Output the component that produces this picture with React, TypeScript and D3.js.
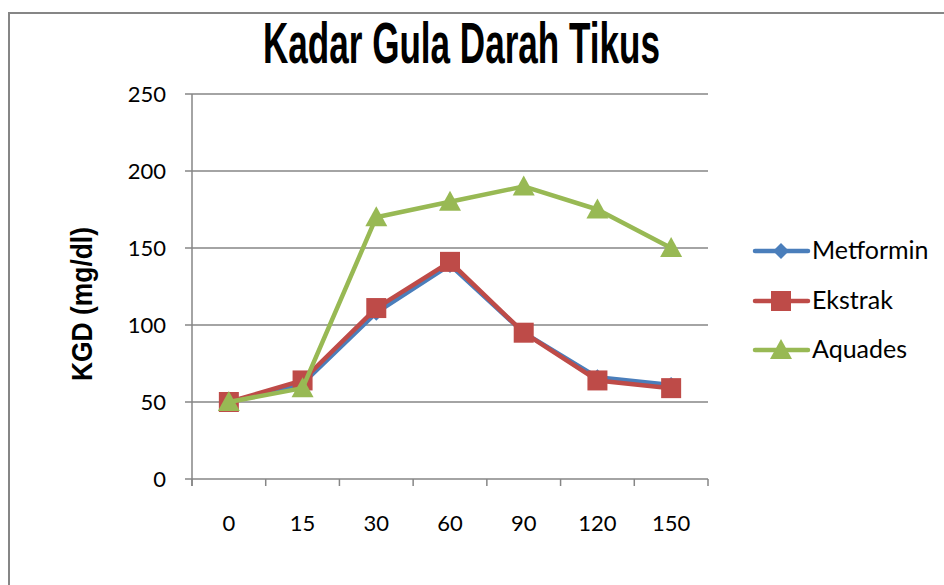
import React, { useEffect, useRef } from 'react';
import * as d3 from 'd3';

// data
const categories = ['0', '15', '30', '60', '90', '120', '150'];
const metformin = [50, 62, 108, 139, 95, 66, 61];
const ekstrak = [50, 64, 111, 141, 95, 64, 59];
const aquades = [50, 59, 170, 180, 190, 175, 150];
const yTicks = [0, 50, 100, 150, 200, 250];

const seriesNames = ['Metformin', 'Ekstrak', 'Aquades'];
const seriesColors = ['#4A7EBB', '#BE4B48', '#98B954'];

const App: React.FC = () => {
    const svgRef = useRef<SVGSVGElement | null>(null);

    useEffect(() => {
        if (!svgRef.current) return;
        const svg = d3.select(svgRef.current);
        svg.selectAll('*').remove();

        const width = 944;
        const height = 585;
        const plot = { left: 192, right: 708, top: 94, bottom: 479 };
        const font = "Lato, 'Open Sans', sans-serif";
        const narrow = "'Liberation Sans Narrow', 'Liberation Sans', Arial, sans-serif";
        const gray = '#868686';

        // khung ngoài
        svg.append('rect')
            .attr('x', 9).attr('y', 13)
            .attr('width', width + 20).attr('height', height + 20)
            .attr('fill', 'white')
            .attr('stroke', gray).attr('stroke-width', 2);

        const x = d3.scaleBand().domain(categories).range([plot.left, plot.right]);
        const y = d3.scaleLinear().domain([0, 250]).range([plot.bottom, plot.top]);

        // gridlines + y ticks
        svg.append('g').selectAll('line').data(yTicks).enter().append('line')
            .attr('x1', plot.left - 7).attr('x2', plot.right)
            .attr('y1', d => y(d)).attr('y2', d => y(d))
            .attr('stroke', gray).attr('stroke-width', 1.5);

        svg.append('g').selectAll('text').data(yTicks).enter().append('text')
            .attr('x', 166).attr('y', d => y(d) + 8)
            .attr('text-anchor', 'end')
            .attr('font-family', font).attr('font-size', 22)
            .attr('fill', '#000')
            .text(d => d);

        // y axis line
        svg.append('line')
            .attr('x1', plot.left).attr('x2', plot.left)
            .attr('y1', plot.top).attr('y2', plot.bottom + 7)
            .attr('stroke', gray).attr('stroke-width', 1.5);

        // x ticks at category boundaries
        const bounds = categories.map(c => x(c)!).concat([plot.right]);
        svg.append('g').selectAll('line').data(bounds).enter().append('line')
            .attr('x1', d => d).attr('x2', d => d)
            .attr('y1', plot.bottom).attr('y2', plot.bottom + 7)
            .attr('stroke', gray).attr('stroke-width', 1.5);

        svg.append('g').selectAll('text').data(categories).enter().append('text')
            .attr('x', d => x(d)! + x.bandwidth() / 2)
            .attr('y', 531)
            .attr('text-anchor', 'middle')
            .attr('font-family', font).attr('font-size', 22)
            .text(d => d);

        // title
        svg.append('text')
            .attr('x', 263).attr('y', 63)
            .attr('textLength', 397).attr('lengthAdjust', 'spacingAndGlyphs')
            .attr('font-family', narrow)
            .attr('font-weight', 'bold').attr('font-size', 58)
            .text('Kadar Gula Darah Tikus');

        // y axis title
        svg.append('text')
            .attr('transform', 'translate(92,381) rotate(-90)')
            .attr('textLength', 154).attr('lengthAdjust', 'spacingAndGlyphs')
            .attr('font-family', narrow)
            .attr('font-weight', 'bold').attr('font-size', 30)
            .text('KGD (mg/dl)');

        const allSeries = [metformin, ekstrak, aquades];
        const cx = (i: number) => x(categories[i])! + x.bandwidth() / 2;
        const line = d3.line<number>().x((_, i) => cx(i)).y(d => y(d));

        const drawMarker = (g: d3.Selection<SVGGElement, unknown, null, undefined>, k: number, px: number, py: number) => {
            if (k === 0) {
                g.append('path')
                    .attr('d', `M${px},${py - 8}L${px + 8},${py}L${px},${py + 8}L${px - 8},${py}Z`)
                    .attr('fill', seriesColors[k]);
            } else if (k === 1) {
                g.append('rect')
                    .attr('x', px - 10).attr('y', py - 10)
                    .attr('width', 20).attr('height', 20)
                    .attr('fill', seriesColors[k]);
            } else {
                g.append('path')
                    .attr('d', `M${px},${py - 11}L${px + 11},${py + 9}L${px - 11},${py + 9}Z`)
                    .attr('fill', seriesColors[k]);
            }
        };

        allSeries.forEach((vals, k) => {
            const g = svg.append('g');
            g.append('path')
                .datum(vals)
                .attr('d', line)
                .attr('fill', 'none')
                .attr('stroke', seriesColors[k])
                .attr('stroke-width', 4.5)
                .attr('stroke-linejoin', 'round');
            vals.forEach((v, i) => drawMarker(g, k, cx(i), y(v)));
        });

        // legend
        const legendY = [251, 301, 350];
        seriesNames.forEach((name, k) => {
            const g = svg.append('g');
            g.append('line')
                .attr('x1', 755).attr('x2', 808)
                .attr('y1', legendY[k]).attr('y2', legendY[k])
                .attr('stroke', seriesColors[k]).attr('stroke-width', 4.5)
                .attr('stroke-linecap', 'round');
            drawMarker(g, k, 781, legendY[k]);
            g.append('text')
                .attr('x', 812).attr('y', legendY[k] + 8)
                .attr('font-family', font).attr('font-size', 25)
                .text(name);
        });
    }, []);

    return (
        <svg ref={svgRef} width={944} height={585}
            style={{ position: 'absolute', left: 0, top: 0, background: 'white' }} />
    );
};

export default App;
